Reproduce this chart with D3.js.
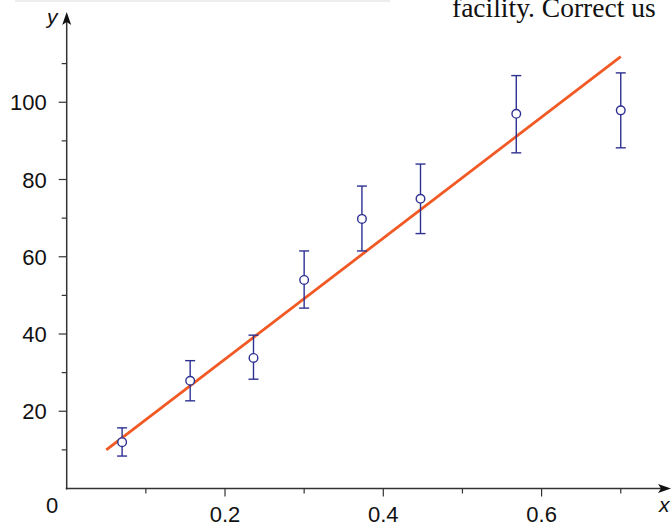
<!DOCTYPE html>
<html>
<head>
<meta charset="utf-8">
<script src="https://cdn.jsdelivr.net/npm/d3@7"></script>
<style>
  body { margin: 0; background: #fff; }
  svg { display: block; }
</style>
</head>
<body>
<script>
// measured points with error bars
const xs = [0.070, 0.156, 0.236, 0.300, 0.373, 0.447, 0.568, 0.700];
const ys = [12.0, 27.9, 33.8, 54.0, 69.8, 75.0, 97.0, 97.9];
const yHi = [15.7, 33.1, 39.7, 61.5, 78.3, 84.0, 106.9, 107.6];
const yLo = [8.4, 22.7, 28.3, 46.7, 61.5, 66.0, 86.9, 88.2];

// fitted line end points
const fitX = [0.05, 0.70];
const fitY = [10.0, 111.8];

const xTicks = [0.2, 0.4, 0.6];
const xMinor = [0.1, 0.3, 0.5, 0.7];
const yTicks = [20, 40, 60, 80, 100];
const yMinor = [10, 30, 50, 70, 90, 110];

const width = 671, height = 524;

const xScale = d3.scaleLinear().domain([0, 0.2]).range([66.7, 225]);
const yScale = d3.scaleLinear().domain([0, 20]).range([488.5, 411.25]);

const svg = d3.select("body").append("svg")
  .attr("width", width)
  .attr("height", height);

// bits of the surrounding page that show in the crop
svg.append("rect")
  .attr("x", 15).attr("y", 0)
  .attr("width", 375).attr("height", 2)
  .attr("fill", "#eeeeee");

svg.append("text")
  .attr("x", 452).attr("y", 17)
  .attr("font-family", "Liberation Serif, DejaVu Serif, serif")
  .attr("font-size", 27.5)
  .attr("fill", "#111")
  .text("facility. Correct us");

const axisColor = "#333";
const x0 = xScale(0), y0 = yScale(0);

// axes lines
svg.append("line")
  .attr("x1", x0).attr("y1", y0 + 1)
  .attr("x2", x0).attr("y2", 22)
  .attr("stroke", axisColor).attr("stroke-width", 1.5);
svg.append("line")
  .attr("x1", x0 - 1).attr("y1", y0)
  .attr("x2", 662).attr("y2", y0)
  .attr("stroke", axisColor).attr("stroke-width", 1.5);

// arrowheads
svg.append("path")
  .attr("d", `M${x0},12 L${x0 + 4.5},25 L${x0},22 L${x0 - 4.5},25 Z`)
  .attr("fill", "#111");
svg.append("path")
  .attr("d", `M671,${y0} L658,${y0 - 4.5} L661,${y0} L658,${y0 + 4.5} Z`)
  .attr("fill", "#111");

// ticks
svg.selectAll(".xtick").data(xTicks).join("line")
  .attr("x1", d => xScale(d)).attr("x2", d => xScale(d))
  .attr("y1", y0).attr("y2", y0 + 8)
  .attr("stroke", axisColor).attr("stroke-width", 1.2);
svg.selectAll(".xminor").data(xMinor).join("line")
  .attr("x1", d => xScale(d)).attr("x2", d => xScale(d))
  .attr("y1", y0).attr("y2", y0 + 5)
  .attr("stroke", axisColor).attr("stroke-width", 1.2);
svg.selectAll(".ytick").data(yTicks).join("line")
  .attr("x1", x0 - 8).attr("x2", x0)
  .attr("y1", d => yScale(d)).attr("y2", d => yScale(d))
  .attr("stroke", axisColor).attr("stroke-width", 1.2);
svg.selectAll(".yminor").data(yMinor).join("line")
  .attr("x1", x0 - 5).attr("x2", x0)
  .attr("y1", d => yScale(d)).attr("y2", d => yScale(d))
  .attr("stroke", axisColor).attr("stroke-width", 1.2);

const font = "Liberation Sans, Arial, Helvetica, sans-serif";

svg.selectAll(".xlab").data(xTicks).join("text")
  .attr("x", d => xScale(d)).attr("y", 522)
  .attr("text-anchor", "middle")
  .attr("font-family", font).attr("font-size", 22)
  .attr("fill", "#111")
  .text(d => d3.format(".1f")(d));

svg.selectAll(".ylab").data(yTicks).join("text")
  .attr("x", x0 - 20).attr("y", d => yScale(d) + 8)
  .attr("text-anchor", "end")
  .attr("font-family", font).attr("font-size", 22)
  .attr("fill", "#111")
  .text(d => d);

svg.append("text")
  .attr("x", 52).attr("y", 513)
  .attr("text-anchor", "middle")
  .attr("font-family", font).attr("font-size", 22)
  .attr("fill", "#111")
  .text("0");

svg.append("text")
  .attr("x", 47).attr("y", 24)
  .attr("font-family", font).attr("font-size", 21)
  .attr("font-style", "italic")
  .attr("fill", "#111")
  .text("y");

svg.append("text")
  .attr("x", 659).attr("y", 512)
  .attr("font-family", font).attr("font-size", 21)
  .attr("font-style", "italic")
  .attr("fill", "#111")
  .text("x");

// fitted line
const line = d3.line()
  .x((d, i) => xScale(fitX[i]))
  .y((d, i) => yScale(fitY[i]));
svg.append("path")
  .datum(fitX)
  .attr("d", line)
  .attr("fill", "none")
  .attr("stroke", "#f15a24")
  .attr("stroke-width", 2.8);

// error bars
const blue = "#2e3192";
const bars = svg.append("g")
  .attr("stroke", blue).attr("stroke-width", 1.4);
xs.forEach((x, i) => {
  const px = xScale(x);
  bars.append("line")
    .attr("x1", px).attr("x2", px)
    .attr("y1", yScale(yHi[i])).attr("y2", yScale(yLo[i]));
  bars.append("line")
    .attr("x1", px - 5).attr("x2", px + 5)
    .attr("y1", yScale(yHi[i])).attr("y2", yScale(yHi[i]));
  bars.append("line")
    .attr("x1", px - 5).attr("x2", px + 5)
    .attr("y1", yScale(yLo[i])).attr("y2", yScale(yLo[i]));
  bars.append("circle")
    .attr("cx", px).attr("cy", yScale(ys[i]))
    .attr("r", 4.3)
    .attr("fill", "#fff");
});
</script>
</body>
</html>
